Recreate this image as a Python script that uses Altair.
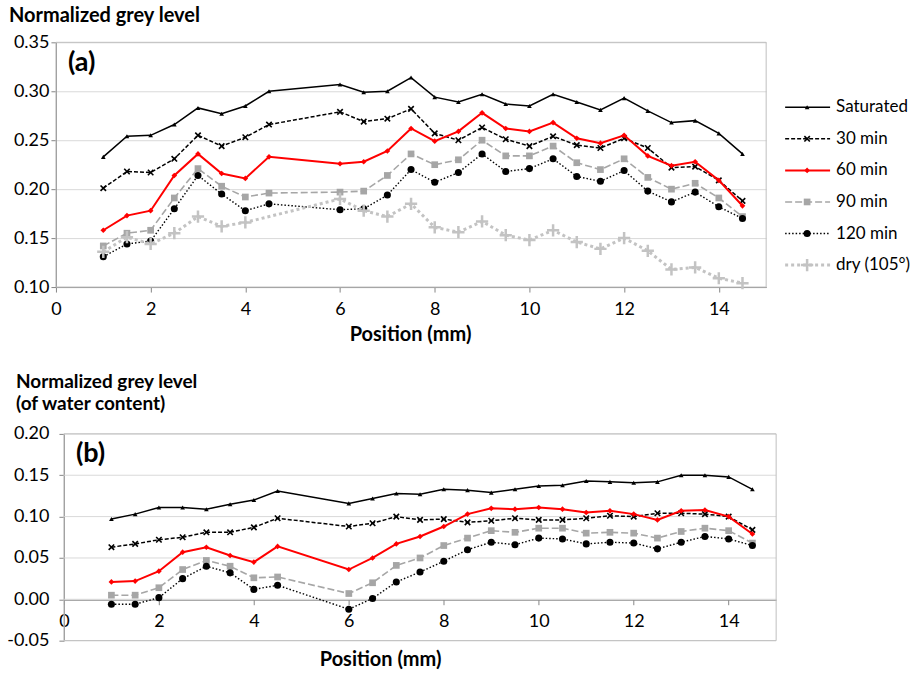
import altair as alt
import pandas as pd

FONT = "Lato"

# ---------------- data ----------------
positions = [1, 1.5, 2, 2.5, 3, 3.5, 4, 4.5, 6, 6.5, 7, 7.5, 8, 8.5, 9, 9.5,
             10, 10.5, 11, 11.5, 12, 12.5, 13, 13.5, 14, 14.5]
positions_dry = [1, 1.5, 2, 2.5, 3, 3.5, 4, 6, 6.5, 7, 7.5, 8, 8.5, 9, 9.5,
                 10, 10.5, 11, 11.5, 12, 12.5, 13, 13.5, 14, 14.5]

series_names = ["Saturated", "30 min", "60 min", "90 min", "120 min", "dry (105°)"]

# panel (a): normalized grey level
a_saturated = [0.233, 0.254, 0.255, 0.266, 0.283, 0.277, 0.285, 0.300, 0.307, 0.299, 0.300, 0.314, 0.294,
               0.289, 0.297, 0.287, 0.285, 0.297, 0.289, 0.281, 0.293, 0.280, 0.268, 0.270, 0.257, 0.236]
a_30min = [0.201, 0.218, 0.217, 0.231, 0.255, 0.244, 0.253, 0.266, 0.279, 0.269, 0.272, 0.282, 0.257,
           0.250, 0.263, 0.251, 0.244, 0.254, 0.245, 0.242, 0.252, 0.242, 0.222, 0.223, 0.209, 0.188]
a_60min = [0.158, 0.173, 0.178, 0.214, 0.236, 0.216, 0.211, 0.233, 0.226, 0.228, 0.239, 0.262, 0.249,
           0.259, 0.278, 0.262, 0.259, 0.268, 0.252, 0.247, 0.255, 0.234, 0.224, 0.228, 0.209, 0.183]
a_90min = [0.142, 0.155, 0.158, 0.191, 0.221, 0.203, 0.192, 0.196, 0.197, 0.198, 0.214, 0.236, 0.225,
           0.230, 0.250, 0.234, 0.234, 0.244, 0.227, 0.220, 0.231, 0.212, 0.200, 0.206, 0.191, 0.172]
a_120min = [0.131, 0.144, 0.147, 0.180, 0.214, 0.195, 0.178, 0.185, 0.179, 0.180, 0.194, 0.220, 0.207,
            0.217, 0.236, 0.218, 0.221, 0.231, 0.213, 0.208, 0.219, 0.198, 0.187, 0.197, 0.182, 0.170]
a_dry = [0.136, 0.151, 0.144, 0.155, 0.172, 0.162, 0.166, 0.190, 0.178, 0.172, 0.185, 0.161, 0.156,
         0.167, 0.153, 0.148, 0.158, 0.146, 0.139, 0.150, 0.137, 0.118, 0.120, 0.109, 0.104]

# panel (b): normalized grey level of water content
b_saturated = [0.097, 0.103, 0.111, 0.111, 0.109, 0.115, 0.120, 0.131, 0.116, 0.122, 0.128, 0.127, 0.133,
               0.132, 0.129, 0.133, 0.137, 0.138, 0.143, 0.142, 0.141, 0.142, 0.150, 0.150, 0.148, 0.133]
b_30min = [0.063, 0.067, 0.072, 0.075, 0.081, 0.081, 0.087, 0.098, 0.088, 0.092, 0.100, 0.096, 0.097,
           0.093, 0.095, 0.098, 0.096, 0.096, 0.098, 0.101, 0.100, 0.104, 0.104, 0.103, 0.100, 0.084]
b_60min = [0.021, 0.022, 0.034, 0.057, 0.063, 0.053, 0.045, 0.064, 0.036, 0.050, 0.067, 0.076, 0.088,
           0.103, 0.110, 0.109, 0.111, 0.109, 0.105, 0.107, 0.103, 0.096, 0.107, 0.108, 0.100, 0.079]
b_90min = [0.005, 0.005, 0.014, 0.036, 0.047, 0.040, 0.026, 0.027, 0.007, 0.020, 0.041, 0.050, 0.065,
           0.074, 0.083, 0.081, 0.086, 0.086, 0.080, 0.081, 0.080, 0.074, 0.082, 0.086, 0.083, 0.068]
b_120min = [-0.006, -0.006, 0.002, 0.025, 0.040, 0.032, 0.012, 0.017, -0.012, 0.001, 0.021, 0.033, 0.046,
            0.060, 0.069, 0.066, 0.074, 0.073, 0.067, 0.069, 0.068, 0.061, 0.069, 0.076, 0.073, 0.065]

x_ticks = [0, 2, 4, 6, 8, 10, 12, 14]
a_y_ticks = [0.10, 0.15, 0.20, 0.25, 0.30, 0.35]
b_y_ticks = [-0.05, 0.00, 0.05, 0.10, 0.15, 0.20]


def long_table(items):
    rows = []
    for name, xs, ys in items:
        for x, y in zip(xs, ys):
            rows.append({"series": name, "pos": x, "value": y})
    return pd.DataFrame(rows)


df_a = long_table([
    ("Saturated", positions, a_saturated),
    ("30 min", positions, a_30min),
    ("60 min", positions, a_60min),
    ("90 min", positions, a_90min),
    ("120 min", positions, a_120min),
    ("dry (105°)", positions_dry, a_dry),
])
df_b = long_table([
    ("Saturated", positions, b_saturated),
    ("30 min", positions, b_30min),
    ("60 min", positions, b_60min),
    ("90 min", positions, b_90min),
    ("120 min", positions, b_120min),
])

# ---------------- styles ----------------
X_PATH = "M-1,-1L1,1M-1,1L1,-1"
PLUS_PATH = "M-1,0L1,0M0,-1L0,1"

styles = {
    "Saturated": dict(color="#000000", dash=None, width=1.5, shape="triangle-up", size=22, filled=True, pw=1),
    "30 min": dict(color="#000000", dash=[4, 2], width=1.5, shape=X_PATH, size=30, filled=False, pw=1.6),
    "60 min": dict(color="#FF0000", dash=None, width=2, shape="diamond", size=32, filled=True, pw=1),
    "90 min": dict(color="#A6A6A6", dash=[7, 3], width=1.6, shape="square", size=45, filled=True, pw=1),
    "120 min": dict(color="#000000", dash=[1.5, 2], width=1.4, shape="circle", size=50, filled=True, pw=1),
    "dry (105°)": dict(color="#C3C3C3", dash=[3, 3], width=3, shape=PLUS_PATH, size=150, filled=False, pw=2.5),
}

AXIS_GREY = "#868686"
GRID_GREY = "#D9D9D9"
FRAME_GREY = "#BFBFBF"
TICK_FONT_SIZE = 18
HYPHEN_LABEL = "datum.value < 0 ? '-' + format(-datum.value, '.2f') : format(datum.value, '.2f')"

# panel (a) plot: 711 px wide; panel (b) plot: 713 px wide, starting 8 px further right
A_W, A_H = 711, 245
B_SHIFT, B_W, B_H = 8, 713, 207

a_xscale = alt.Scale(domain=[0, 15], nice=False, zero=False)
b_xscale = alt.Scale(domain=[0, 15], nice=False, zero=False, range=[B_SHIFT, B_SHIFT + B_W])


def x_axis(offset):
    return alt.Axis(values=x_ticks, title=None, grid=False, domainColor=AXIS_GREY, tickColor=AXIS_GREY,
                    tickSize=5, labelFontSize=TICK_FONT_SIZE, labelFont=FONT, labelColor="#000000",
                    labelPadding=8, offset=offset, labelFlush=False)


def y_axis(ticks, pad, grid=True, offset=0):
    return alt.Axis(values=ticks, labelExpr=HYPHEN_LABEL, title=None, grid=grid, gridColor=GRID_GREY,
                    domainColor=AXIS_GREY, tickColor=AXIS_GREY, tickSize=5, labelFontSize=TICK_FONT_SIZE,
                    labelFont=FONT, labelColor="#000000", labelPadding=pad, offset=offset)


def series_layers(df, names, xscale, yscale, xax, yax):
    layers = []
    for name in names:
        st = styles[name]
        base = alt.Chart(df).transform_filter(alt.datum.series == name)
        enc = dict(x=alt.X("pos:Q", scale=xscale, axis=xax),
                   y=alt.Y("value:Q", scale=yscale, axis=yax))
        line_kw = dict(color=st["color"], strokeWidth=st["width"])
        if st["dash"]:
            line_kw["strokeDash"] = st["dash"]
        layers.append(base.mark_line(**line_kw).encode(**enc))
        layers.append(base.mark_point(shape=st["shape"], size=st["size"], filled=st["filled"],
                                      color=st["color"], strokeWidth=st["pw"], opacity=1).encode(**enc))
    return layers


one = pd.DataFrame({"k": [0]})


def label(text, x, y, size, bold=True, align="left"):
    return alt.Chart(one).mark_text(text=text, font=FONT, fontSize=size,
                                    fontWeight="bold" if bold else "normal", align=align,
                                    baseline="middle", color="#000000").encode(
        x=alt.value(x), y=alt.value(y))


def left_anchor(x):
    # invisible element fixing the left edge of a panel's bounds
    return alt.Chart(one).mark_point(opacity=0, size=1, filled=True).encode(x=alt.value(x), y=alt.value(100))


# ---------------- legend (panel a) ----------------
leg_df = pd.DataFrame({"series": series_names})
leg_y = alt.Y("series:N", scale=alt.Scale(type="point", domain=series_names, range=[65, 223], padding=0),
              axis=None)
legend_layers = []
for name in series_names:
    st = styles[name]
    base = alt.Chart(leg_df).transform_filter(alt.datum.series == name)
    rule_kw = dict(color=st["color"], strokeWidth=st["width"])
    if st["dash"]:
        rule_kw["strokeDash"] = st["dash"]
    legend_layers.append(base.mark_rule(**rule_kw).encode(x=alt.value(730), x2=alt.value(775), y=leg_y))
    legend_layers.append(base.mark_point(shape=st["shape"], size=st["size"], filled=st["filled"],
                                         color=st["color"], strokeWidth=st["pw"], opacity=1).encode(
        x=alt.value(752), y=leg_y))
legend_layers.append(alt.Chart(leg_df).mark_text(align="left", baseline="middle", font=FONT, fontSize=17,
                                                 color="#000000").encode(
    x=alt.value(781), y=leg_y, text="series:N"))

# ---------------- panel (a) ----------------
a_yscale = alt.Scale(domain=[0.10, 0.35], nice=False, zero=False)
a_data = series_layers(df_a, series_names, a_xscale, a_yscale, x_axis(0), y_axis(a_y_ticks, 2))
a_frame = alt.Chart(one).mark_rect(fill="transparent", stroke=FRAME_GREY, strokeWidth=1).encode(
    x=alt.value(0), x2=alt.value(A_W), y=alt.value(0), y2=alt.value(A_H))
a_texts = [
    label("Normalized grey level", -47, -26, 20),
    label("(a)", 12, 21, 27),
    label("Position (mm)", 355, 293, 20, align="center"),
    left_anchor(-53),
]
panel_a = alt.layer(alt.layer(a_frame, *a_data, *a_texts), alt.layer(*legend_layers)).resolve_scale(
    y="independent").properties(width=A_W, height=A_H, view=alt.ViewBackground(stroke="transparent"))

# ---------------- panel (b) ----------------
b_yscale = alt.Scale(domain=[-0.05, 0.20], nice=False, zero=False)
b_grid_df = pd.DataFrame({"tick": b_y_ticks})
b_grid = alt.Chart(b_grid_df).mark_rule(color=GRID_GREY, strokeWidth=1).encode(
    y=alt.Y("tick:Q", scale=b_yscale, axis=y_axis(b_y_ticks, 10, grid=False, offset=-B_SHIFT)),
    x=alt.value(B_SHIFT), x2=alt.value(B_SHIFT + B_W))
b_frame = alt.Chart(one).mark_rect(fill="transparent", stroke=FRAME_GREY, strokeWidth=1).encode(
    x=alt.value(B_SHIFT), x2=alt.value(B_SHIFT + B_W), y=alt.value(0), y2=alt.value(B_H))
b_data = series_layers(df_b, series_names[:5], b_xscale, b_yscale, x_axis(-41),
                       y_axis(b_y_ticks, 10, grid=False, offset=-B_SHIFT))
b_texts = [
    label("Normalized grey level", -40, -52, 19),
    label("(of water content)", -40, -30, 19),
    label("(b)", 20, 20, 27),
    label("Position (mm)", 325, 226, 20, align="center"),
    left_anchor(-53),
]
panel_b = alt.layer(b_grid, b_frame, *b_data, *b_texts).properties(
    width=B_SHIFT + B_W, height=B_H, view=alt.ViewBackground(stroke="transparent"))

chart = alt.vconcat(panel_a, panel_b, spacing=26).properties(
    padding={"left": 2, "top": 5, "right": 0, "bottom": 0}
).configure(font=FONT)

chart.save("out.html", embed_options={"renderer": "svg", "actions": False})
